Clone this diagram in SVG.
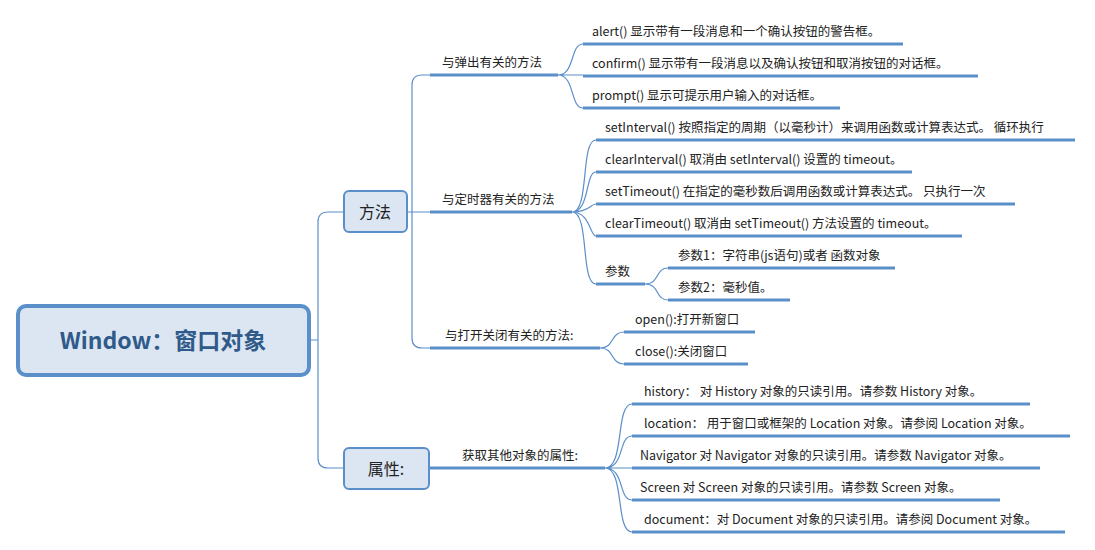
<svg xmlns="http://www.w3.org/2000/svg" width="1095" height="550" viewBox="0 0 1095 550">
<style>
text{font-family:"Noto Sans CJK SC","Liberation Sans",sans-serif;fill:#222;font-size:12.5px}
.u{stroke:#5b8fc9;stroke-width:3;fill:none}
.c{stroke:#5b8fc9;stroke-width:1.2;fill:none}
.box{fill:#dce6f2;stroke:#5b8fc9;stroke-width:2}
</style>
<rect width="1095" height="550" fill="#fff"/>
<g id="connectors">
<path class="c" d="M309 340 H318 M328 212 H344 M328 468 H344 M318 222 Q318 212 328 212 M318 458 Q318 468 328 468 M318 222 V458"/>
<path class="c" d="M407 212 H430 M430 75 H422 Q412 75 412 85 V338 Q412 348 422 348 H430"/>
<path class="u" d="M430 75 H558 M430 212 H572 M430 348 H600 M430 468 H605"/>
<path class="c" d="M558 75 C575 75 570 44 583 44 M558 75 H583 M558 75 C575 75 570 108 583 108"/>
<path class="u" d="M583 44 H903 M583 76 H978 M583 108 H840"/>
<path class="c" d="M572 212 C590 212 580 140 596 140 M572 212 C590 212 585 172 596 172 M572 212 C590 212 590 204 596 204 M572 212 C590 212 590 236 596 236 M572 212 C590 212 580 284 596 284"/>
<path class="u" d="M596 140 H1075 M596 172 H912 M596 204 H1015 M596 236 H962 M596 284 H645"/>
<path class="c" d="M645 284 C660 284 655 268 668 268 M645 284 C660 284 655 300 668 300"/>
<path class="u" d="M668 268 H895 M668 300 H790"/>
<path class="c" d="M600 348 C615 348 610 332 624 332 M600 348 C615 348 610 364 624 364"/>
<path class="u" d="M624 332 H755 M624 364 H748"/>
<path class="c" d="M429 468 H448 M605 468 C625 468 615 404 632 404 M605 468 C625 468 618 436 632 436 M605 468 H632 M605 468 C625 468 618 500 632 500 M605 468 C625 468 615 532 632 532"/>
<path class="u" d="M632 404 H1030 M632 436 H1070 M632 468 H1040 M632 500 H1000 M632 532 H1065"/>
</g>
<g id="root"><rect x="18" y="306" width="291" height="69" rx="8" fill="#dce6f2" stroke="#5b8fc9" stroke-width="4"/>
<text x="163" y="349" text-anchor="middle" style="font-size:23px;font-weight:bold;fill:#2f5a8a">Window：窗口对象</text></g>
<g id="methods"><rect class="box" x="344" y="191" width="63" height="41" rx="5"/><text x="375" y="218" text-anchor="middle" style="font-size:16px">方法</text></g>
<g id="props"><rect class="box" x="344" y="448" width="85" height="41" rx="5"/><text x="386" y="475" text-anchor="middle" style="font-size:16px">属性:</text></g>
<g id="labels">
<text x="442" y="67">与弹出有关的方法</text>
<text x="442" y="204">与定时器有关的方法</text>
<text x="445" y="340">与打开关闭有关的方法:</text>
<text x="462" y="460">获取其他对象的属性:</text>
<text x="592" y="36">alert() 显示带有一段消息和一个确认按钮的警告框。</text>
<text x="592" y="68">confirm() 显示带有一段消息以及确认按钮和取消按钮的对话框。</text>
<text x="592" y="100">prompt() 显示可提示用户输入的对话框。</text>
<text x="605" y="132">setInterval() 按照指定的周期（以毫秒计）来调用函数或计算表达式。 循环执行</text>
<text x="605" y="164">clearInterval() 取消由 setInterval() 设置的 timeout。</text>
<text x="605" y="196">setTimeout() 在指定的毫秒数后调用函数或计算表达式。 只执行一次</text>
<text x="605" y="228">clearTimeout() 取消由 setTimeout() 方法设置的 timeout。</text>
<text x="605" y="276">参数</text>
<text x="678" y="260">参数1：字符串(js语句)或者 函数对象</text>
<text x="678" y="292">参数2：毫秒值。</text>
<text x="635" y="324">open():打开新窗口</text>
<text x="635" y="356">close():关闭窗口</text>
<text x="644" y="396">history： 对 History 对象的只读引用。请参数 History 对象。</text>
<text x="644" y="428">location： 用于窗口或框架的 Location 对象。请参阅 Location 对象。</text>
<text x="640" y="460">Navigator 对 Navigator 对象的只读引用。请参数 Navigator 对象。</text>
<text x="640" y="492">Screen 对 Screen 对象的只读引用。请参数 Screen 对象。</text>
<text x="644" y="524">document：对 Document 对象的只读引用。请参阅 Document 对象。</text>
</g>
</svg>
